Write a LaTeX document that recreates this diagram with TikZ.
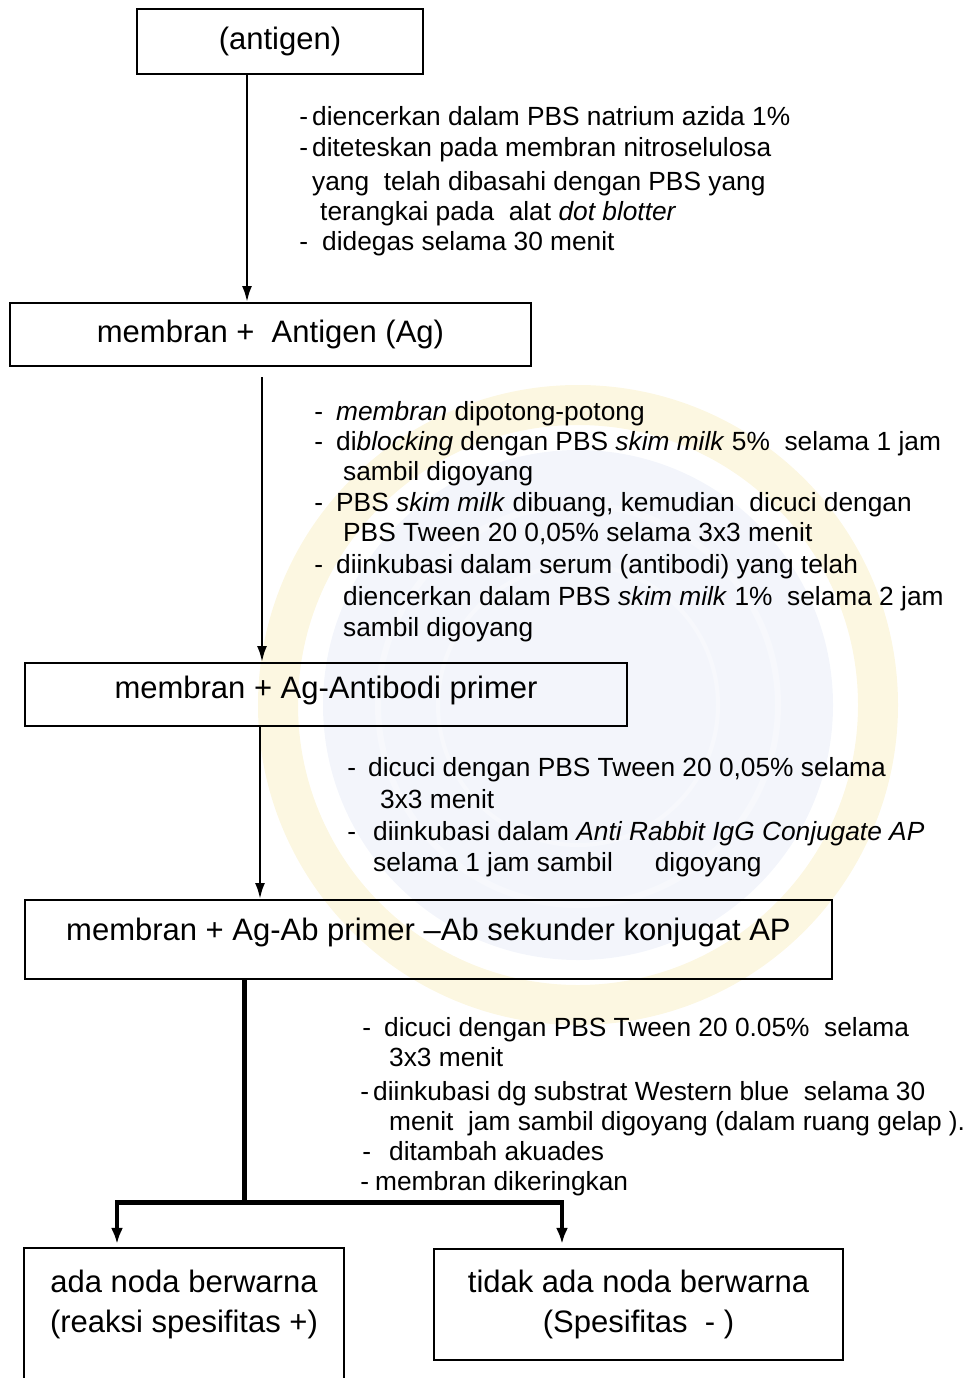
\documentclass[tikz,border=0pt]{standalone}
\usepackage{fontspec}
\setmainfont{Liberation Sans}
\usetikzlibrary{arrows.meta}
% dash placed to the left of a list line, #1 = gap before the text
\newcommand\leaddash[1]{\llap{-\hspace{#1}}}
\definecolor{markgold}{HTML}{F6E7A8}
\definecolor{markblue}{HTML}{DCE3F4}
\begin{document}
\begin{tikzpicture}[x=1pt,y=-1pt,
  boxframe/.style={draw, line width=2.2pt, inner sep=0pt, font=\fontsize{31}{40}\selectfont},
  note/.style={anchor=base west, inner sep=0pt, font=\fontsize{26.3}{30}\selectfont},
  flow/.style={line width=2.4pt, -{Latex[length=16pt,width=10pt]}},
  trunk/.style={line width=5pt},
  branch/.style={line width=4pt, -{Latex[length=16pt,width=12pt]}},
]
\useasboundingbox (0,0) rectangle (964,1378);

% faint emblem in the background
\begin{scope}[opacity=0.35]
  \draw[markgold, line width=40pt] (578,705) circle[radius=300pt];
  \fill[markblue] (578,705) circle[radius=255pt];
  \draw[white, line width=6pt] (578,705) circle[radius=200pt];
  \draw[white, line width=4pt] (578,705) circle[radius=140pt];
\end{scope}

% process boxes
\node[boxframe, anchor=north, minimum width=286pt, text height=40pt, text depth=25pt] (b1) at (280,8) {(antigen)};
\node[boxframe, anchor=north, minimum width=521pt, text height=39pt, text depth=24pt] (b2) at (270.5,302) {membran +\ \ Antigen (Ag)};
\node[boxframe, anchor=north, minimum width=602pt, text height=35pt, text depth=28pt] (b3) at (326,662) {membran + Ag-Antibodi primer};
\node[boxframe, anchor=north, minimum width=807pt, text height=40pt, text depth=39pt] (b4) at (428.5,899) {membran + Ag-Ab primer --Ab sekunder konjugat AP};
\node[boxframe, draw=none, align=center, minimum width=318pt, minimum height=111pt] (b5) at (184,1304.5) {ada noda berwarna\\(reaksi spesifitas +)};
\node[boxframe, align=center, minimum width=409pt, minimum height=111pt] (b6) at (638.5,1304.5) {tidak ada noda berwarna\\(Spesifitas\ \ - )};
\draw[line width=2.2pt] ([yshift=-40pt]b5.south west) -- (b5.north west) -- (b5.north east) -- ([yshift=-40pt]b5.south east);

% connector columns
\coordinate (c1) at (247,0);
\coordinate (c2) at (262,0);
\coordinate (c3) at (260,0);
\coordinate (jn) at (244,1202);
\coordinate (jl) at (117,1202);
\coordinate (jr) at (562,1202);

\draw[flow] (b1.south -| c1) -- (b2.north -| c1);
\draw[flow] ([yshift=-10pt]b2.south -| c2) -- (b3.north -| c2);
\draw[flow] (b3.south -| c3) -- (b4.north -| c3);
\draw[trunk] (b4.south -| jn) -- (jn);
\draw[trunk] ([xshift=-2pt]jl) -- ([xshift=2pt]jr);
\draw[branch] (jl) -- ([yshift=4pt]b5.north -| jl);
\draw[branch] (jr) -- ([yshift=4pt]b6.north -| jr);

% steps: antigen -> membrane
\node[note] (n11) at (312,126) {\leaddash{4pt}diencerkan dalam PBS natrium azida 1\%};
\node[note] (n12) at (312,156) {\leaddash{4pt}diteteskan pada membran nitroselulosa};
\node[note] (n13) at (312,190) {yang\ \ telah dibasahi dengan PBS yang};
\node[note] (n14) at (320,220) {terangkai pada\ \ alat \textit{dot blotter}};
\node[note] (n15) at (322,250) {\leaddash{14pt}didegas selama 30 menit};

% steps: membrane -> primary antibody
\node[note] (n21) at (336,420) {\leaddash{13pt}\textit{membran} dipotong-potong};
\node[note] (n22) at (336,450) {\leaddash{13pt}di\textit{blocking} dengan PBS \textit{skim milk} 5\%\ \ selama 1 jam};
\node[note] (n23) at (343,480) {sambil digoyang};
\node[note] (n24) at (336,511) {\leaddash{13pt}PBS \textit{skim milk} dibuang, kemudian\ \ dicuci dengan};
\node[note] (n25) at (343,541) {PBS Tween 20 0,05\% selama 3x3 menit};
\node[note] (n26) at (336,573) {\leaddash{13pt}diinkubasi dalam serum (antibodi) yang telah};
\node[note] (n27) at (343,605) {diencerkan dalam PBS \textit{skim milk} 1\%\ \ selama 2 jam};
\node[note] (n28) at (343,636) {sambil digoyang};

% steps: primary -> secondary antibody
\node[note] (n31) at (368,776) {\leaddash{12pt}dicuci dengan PBS Tween 20 0,05\% selama};
\node[note] (n32) at (380,808) {3x3 menit};
\node[note] (n33) at (373,840) {\leaddash{17pt}diinkubasi dalam \textit{Anti Rabbit IgG Conjugate AP}};
\node[note] (n34) at (373,871) {selama 1 jam sambil\hspace{42pt}digoyang};

% steps: detection
\node[note] (n41) at (384,1036) {\leaddash{13pt}dicuci dengan PBS Tween 20 0.05\%\ \ selama};
\node[note] (n42) at (389,1066) {3x3 menit};
\node[note] (n43) at (373,1100) {\leaddash{4pt}diinkubasi dg substrat Western blue\ \ selama 30};
\node[note] (n44) at (389,1130) {menit\ \ jam sambil digoyang (dalam ruang gelap ).};
\node[note] (n45) at (389,1160) {\leaddash{18pt}ditambah akuades};
\node[note] (n46) at (375,1190) {\leaddash{6pt}membran dikeringkan};
\end{tikzpicture}
\end{document}
